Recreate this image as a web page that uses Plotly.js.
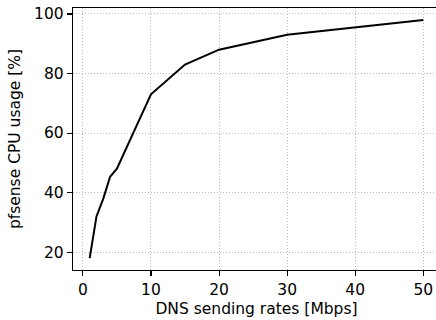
<!DOCTYPE html>
<html><head><meta charset="utf-8">
<script src="https://cdn.plot.ly/plotly-3.0.1.min.js"></script>
<style>html,body{margin:0;padding:0;overflow:hidden;background:#fff}</style>
</head><body><div id="chart"></div>
<script>
const rates = [1, 2, 3, 4, 5, 10, 15, 20, 30, 50];
const cpuUsage = [18, 32, 38, 45.3, 48, 73, 83, 88, 93, 98];
const xTicks = [0, 10, 20, 30, 40, 50];
const yTicks = [20, 40, 60, 80, 100];

const font = {family: 'DejaVu Sans', size: 15.5, color: '#000'};
Plotly.newPlot('chart', [{
  x: rates, y: cpuUsage, type: 'scatter', mode: 'lines',
  line: {color: '#000', width: 2}
}], {
  width: 440, height: 320,
  margin: {l: 73, r: 0, t: 8, b: 50},
  paper_bgcolor: '#fff', plot_bgcolor: '#fff',
  font: font,
  showlegend: false,
  xaxis: {
    range: [-1.45, 52.45], tickvals: xTicks, ticktext: xTicks.map(String),
    showline: true, mirror: true, linecolor: '#000', linewidth: 1.2,
    ticks: 'outside', ticklen: 5, tickwidth: 1.1, tickcolor: '#000',
    showgrid: true, gridcolor: '#b8b8b8', gridwidth: 1, griddash: '1px,2px',
    zeroline: false, tickfont: font,
    title: {text: 'DNS sending rates [Mbps]', font: font, standoff: 5}
  },
  yaxis: {
    range: [14, 102], tickvals: yTicks, ticktext: yTicks.map(String),
    showline: true, mirror: true, linecolor: '#000', linewidth: 1.2,
    ticks: 'outside', ticklen: 5, tickwidth: 1.1, tickcolor: '#000',
    showgrid: true, gridcolor: '#b8b8b8', gridwidth: 1, griddash: '1px,2px',
    zeroline: false, tickfont: font,
    title: {text: 'pfsense CPU usage [%]', font: font, standoff: 9}
  }
}, {staticPlot: true, displayModeBar: false});
</script></body></html>
